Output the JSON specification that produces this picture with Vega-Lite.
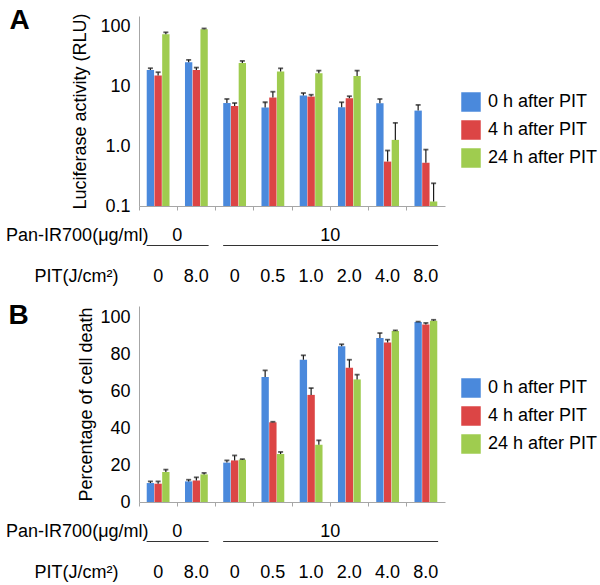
{
  "$schema": "https://vega.github.io/schema/vega-lite/v6.json",
  "padding": {"left": 5, "top": 6, "right": 0, "bottom": 0},
  "config": {
    "font": "Liberation Sans",
    "view": {"stroke": null},
    "axis": {"labelColor": "#000000", "titleColor": "#000000", "domainColor": "#a6a6a6", "tickColor": "#a6a6a6", "grid": false, "labelFontSize": 18, "titleFontSize": 18, "titleFontWeight": "normal", "labelOverlap": false},
    "legend": {"labelFontSize": 18, "labelColor": "#000000", "symbolType": "square", "symbolSize": 380, "symbolStrokeWidth": 0, "rowPadding": 8, "labelOffset": 7}
  },
  "datasets": {
    "a": [
      {"cond": "c1", "series": "0 h after PIT", "value": 19, "hi": 20.3},
      {"cond": "c1", "series": "4 h after PIT", "value": 15.3, "hi": 17.4},
      {"cond": "c1", "series": "24 h after PIT", "value": 75, "hi": 81},
      {"cond": "c2", "series": "0 h after PIT", "value": 25.5, "hi": 28},
      {"cond": "c2", "series": "4 h after PIT", "value": 19, "hi": 20.8},
      {"cond": "c2", "series": "24 h after PIT", "value": 91, "hi": 94},
      {"cond": "c3", "series": "0 h after PIT", "value": 5.3, "hi": 6.2},
      {"cond": "c3", "series": "4 h after PIT", "value": 4.75, "hi": 5.3},
      {"cond": "c3", "series": "24 h after PIT", "value": 24.9, "hi": 26.9},
      {"cond": "c4", "series": "0 h after PIT", "value": 4.45, "hi": 5.46},
      {"cond": "c4", "series": "4 h after PIT", "value": 6.55, "hi": 8.2},
      {"cond": "c4", "series": "24 h after PIT", "value": 17.8, "hi": 20.2},
      {"cond": "c5", "series": "0 h after PIT", "value": 7.07, "hi": 7.8},
      {"cond": "c5", "series": "4 h after PIT", "value": 6.8, "hi": 7.3},
      {"cond": "c5", "series": "24 h after PIT", "value": 16.7, "hi": 18.5},
      {"cond": "c6", "series": "0 h after PIT", "value": 4.5, "hi": 5.46},
      {"cond": "c6", "series": "4 h after PIT", "value": 6.35, "hi": 6.9},
      {"cond": "c6", "series": "24 h after PIT", "value": 15.1, "hi": 18.5},
      {"cond": "c7", "series": "0 h after PIT", "value": 5.26, "hi": 6.2},
      {"cond": "c7", "series": "4 h after PIT", "value": 0.554, "hi": 0.85},
      {"cond": "c7", "series": "24 h after PIT", "value": 1.28, "hi": 2.47},
      {"cond": "c8", "series": "0 h after PIT", "value": 3.96, "hi": 4.93},
      {"cond": "c8", "series": "4 h after PIT", "value": 0.53, "hi": 0.88},
      {"cond": "c8", "series": "24 h after PIT", "value": 0.119, "hi": 0.24}
    ],
    "b": [
      {"cond": "c1", "series": "0 h after PIT", "value": 10.3, "hi": 11.2},
      {"cond": "c1", "series": "4 h after PIT", "value": 9.95, "hi": 11.2},
      {"cond": "c1", "series": "24 h after PIT", "value": 16.3, "hi": 17.6},
      {"cond": "c2", "series": "0 h after PIT", "value": 11.2, "hi": 12.1},
      {"cond": "c2", "series": "4 h after PIT", "value": 11.7, "hi": 13.4},
      {"cond": "c2", "series": "24 h after PIT", "value": 15, "hi": 15.8},
      {"cond": "c3", "series": "0 h after PIT", "value": 21.4, "hi": 22.6},
      {"cond": "c3", "series": "4 h after PIT", "value": 22.6, "hi": 25.3},
      {"cond": "c3", "series": "24 h after PIT", "value": 23, "hi": 23.3},
      {"cond": "c4", "series": "0 h after PIT", "value": 67.9, "hi": 71.5},
      {"cond": "c4", "series": "4 h after PIT", "value": 43.3, "hi": 43.6},
      {"cond": "c4", "series": "24 h after PIT", "value": 26.1, "hi": 27.2},
      {"cond": "c5", "series": "0 h after PIT", "value": 77.3, "hi": 79.7},
      {"cond": "c5", "series": "4 h after PIT", "value": 58.2, "hi": 61.9},
      {"cond": "c5", "series": "24 h after PIT", "value": 31.1, "hi": 33.5},
      {"cond": "c6", "series": "0 h after PIT", "value": 84.6, "hi": 85.7},
      {"cond": "c6", "series": "4 h after PIT", "value": 73, "hi": 77.3},
      {"cond": "c6", "series": "24 h after PIT", "value": 66.6, "hi": 69.2},
      {"cond": "c7", "series": "0 h after PIT", "value": 89.1, "hi": 91.8},
      {"cond": "c7", "series": "4 h after PIT", "value": 86.6, "hi": 88.2},
      {"cond": "c7", "series": "24 h after PIT", "value": 92.9, "hi": 93.3},
      {"cond": "c8", "series": "0 h after PIT", "value": 97.8, "hi": 98},
      {"cond": "c8", "series": "4 h after PIT", "value": 96.5, "hi": 97.3},
      {"cond": "c8", "series": "24 h after PIT", "value": 98.5, "hi": 99}
    ],
    "pan": [
      {"row": "pan", "start": "c1", "end": "c2", "mid": "c1", "t": "0"},
      {"row": "pan", "start": "c3", "end": "c8", "mid": "c5", "t": "10"}
    ],
    "pit": [
      {"row": "pit", "cond": "c1", "t": "0"},
      {"row": "pit", "cond": "c2", "t": "8.0"},
      {"row": "pit", "cond": "c3", "t": "0"},
      {"row": "pit", "cond": "c4", "t": "0.5"},
      {"row": "pit", "cond": "c5", "t": "1.0"},
      {"row": "pit", "cond": "c6", "t": "2.0"},
      {"row": "pit", "cond": "c7", "t": "4.0"},
      {"row": "pit", "cond": "c8", "t": "8.0"}
    ]
  },
  "resolve": {"scale": {"color": "independent"}},
  "spacing": 4,
  "vconcat": [
    {
      "resolve": {"scale": {"color": "independent"}},
      "spacing": 0,
      "vconcat": [
        {
          "width": 306,
          "height": 190,
          "title": {"text": "A", "orient": "left", "anchor": "end", "angle": 0, "align": "right", "baseline": "top", "fontSize": 28, "fontWeight": "bold", "offset": 22, "dy": -6},
          "data": {"name": "a"},
          "encoding": {
            "x": {"field": "cond", "type": "nominal", "sort": ["c1","c2","c3","c4","c5","c6","c7","c8"], "scale": {"paddingInner": 0, "paddingOuter": 0}, "axis": {"title": null, "labels": false, "bandPosition": 0, "tickSize": 4}},
            "xOffset": {"field": "series", "type": "nominal", "sort": ["0 h after PIT", "4 h after PIT", "24 h after PIT"], "scale": {"paddingInner": 0.05, "paddingOuter": 1.5}}
          },
          "layer": [
            {
              "mark": {"type": "bar"},
              "encoding": {
                "y": {"field": "value", "type": "quantitative", "scale": {"type": "log", "domain": [0.1, 152], "nice": false}, "axis": {"title": "Luciferase activity (RLU)", "values": [0.1, 1, 10, 100], "labelExpr": "datum.value < 0.5 ? '0.1' : datum.value < 5 ? '1.0' : datum.value < 50 ? '10' : '100'", "ticks": false, "labelPadding": 9, "titlePadding": 10}},
                "y2": {"datum": 0.1},
                "color": {"field": "series", "type": "nominal", "sort": ["0 h after PIT", "4 h after PIT", "24 h after PIT"], "scale": {"range": ["#4a89dc", "#dc4545", "#9fcc4f"]}, "legend": {"title": null, "orient": "none", "legendX": 322, "legendY": 76}}
              }
            },
            {
              "mark": {"type": "rule", "color": "#1a1a1a", "strokeWidth": 1.2},
              "encoding": {"y": {"field": "value", "type": "quantitative"}, "y2": {"field": "hi"}}
            },
            {
              "mark": {"type": "tick", "color": "#1a1a1a", "thickness": 1.8, "size": 5},
              "encoding": {"y": {"field": "hi", "type": "quantitative"}}
            }
          ]
        },
        {
          "width": 306,
          "height": 83,
          "encoding": {
            "y": {"field": "row", "type": "nominal", "scale": {"domain": ["pan", "pit"], "paddingInner": 0, "paddingOuter": 0}, "axis": {"title": null, "domain": false, "ticks": false, "labelExpr": "datum.value == 'pan' ? 'Pan-IR700(μg/ml)' : 'PIT(J/cm²)'", "labelPadding": {"condition": {"test": "datum.value == 'pan'", "value": -9}, "value": 21}}}
          },
          "layer": [
            {
              "data": {"name": "pan"},
              "mark": {"type": "text", "fontSize": 18, "color": "#000000"},
              "encoding": {"x": {"field": "mid", "type": "nominal", "bandPosition": 1, "sort": ["c1","c2","c3","c4","c5","c6","c7","c8"], "scale": {"domain": ["c1","c2","c3","c4","c5","c6","c7","c8"], "paddingInner": 0, "paddingOuter": 0}, "axis": null}, "text": {"field": "t"}}
            },
            {
              "data": {"name": "pan"},
              "mark": {"type": "rule", "color": "#333333", "strokeWidth": 1},
              "encoding": {"x": {"field": "start", "type": "nominal", "bandPosition": 0.2, "axis": null}, "x2": {"field": "end", "bandPosition": 0.82}, "y": {"field": "row", "type": "nominal", "bandPosition": 0.735}}
            },
            {
              "data": {"name": "pit"},
              "mark": {"type": "text", "fontSize": 18, "color": "#000000"},
              "encoding": {"x": {"field": "cond", "type": "nominal", "axis": null}, "text": {"field": "t"}}
            }
          ]
        }
      ]
    },
    {
      "resolve": {"scale": {"color": "independent"}},
      "spacing": 0,
      "vconcat": [
        {
          "width": 306,
          "height": 196,
          "title": {"text": "B", "orient": "left", "anchor": "end", "angle": 0, "align": "right", "baseline": "top", "fontSize": 28, "fontWeight": "bold", "offset": 29, "dy": -4},
          "data": {"name": "b"},
          "encoding": {
            "x": {"field": "cond", "type": "nominal", "sort": ["c1","c2","c3","c4","c5","c6","c7","c8"], "scale": {"paddingInner": 0, "paddingOuter": 0}, "axis": {"title": null, "labels": false, "bandPosition": 0, "tickSize": 4}},
            "xOffset": {"field": "series", "type": "nominal", "sort": ["0 h after PIT", "4 h after PIT", "24 h after PIT"], "scale": {"paddingInner": 0.05, "paddingOuter": 1.5}}
          },
          "layer": [
            {
              "mark": {"type": "bar"},
              "encoding": {
                "y": {"field": "value", "type": "quantitative", "scale": {"domain": [0, 106.5], "nice": false}, "axis": {"title": "Percentage of cell death", "values": [0, 20, 40, 60, 80, 100], "labelOverlap": false, "ticks": false, "labelPadding": 9, "titlePadding": 4}},
                "color": {"field": "series", "type": "nominal", "sort": ["0 h after PIT", "4 h after PIT", "24 h after PIT"], "scale": {"range": ["#4a89dc", "#dc4545", "#9fcc4f"]}, "legend": {"title": null, "orient": "none", "legendX": 322, "legendY": 72}}
              }
            },
            {
              "mark": {"type": "rule", "color": "#1a1a1a", "strokeWidth": 1.2},
              "encoding": {"y": {"field": "value", "type": "quantitative", "axis": {"title": "Percentage of cell death", "values": [0, 20, 40, 60, 80, 100], "labelOverlap": false, "ticks": false, "labelPadding": 9, "titlePadding": 4}}, "y2": {"field": "hi"}}
            },
            {
              "mark": {"type": "tick", "color": "#1a1a1a", "thickness": 1.8, "size": 5},
              "encoding": {"y": {"field": "hi", "type": "quantitative", "axis": {"title": "Percentage of cell death", "values": [0, 20, 40, 60, 80, 100], "labelOverlap": false, "ticks": false, "labelPadding": 9, "titlePadding": 4}}}
            }
          ]
        },
        {
          "width": 306,
          "height": 83,
          "encoding": {
            "y": {"field": "row", "type": "nominal", "scale": {"domain": ["pan", "pit"], "paddingInner": 0, "paddingOuter": 0}, "axis": {"title": null, "domain": false, "ticks": false, "labelExpr": "datum.value == 'pan' ? 'Pan-IR700(μg/ml)' : 'PIT(J/cm²)'", "labelPadding": {"condition": {"test": "datum.value == 'pan'", "value": -9}, "value": 21}}}
          },
          "layer": [
            {
              "data": {"name": "pan"},
              "mark": {"type": "text", "fontSize": 18, "color": "#000000"},
              "encoding": {"x": {"field": "mid", "type": "nominal", "bandPosition": 1, "sort": ["c1","c2","c3","c4","c5","c6","c7","c8"], "scale": {"domain": ["c1","c2","c3","c4","c5","c6","c7","c8"], "paddingInner": 0, "paddingOuter": 0}, "axis": null}, "text": {"field": "t"}}
            },
            {
              "data": {"name": "pan"},
              "mark": {"type": "rule", "color": "#333333", "strokeWidth": 1},
              "encoding": {"x": {"field": "start", "type": "nominal", "bandPosition": 0.2, "axis": null}, "x2": {"field": "end", "bandPosition": 0.82}, "y": {"field": "row", "type": "nominal", "bandPosition": 0.735}}
            },
            {
              "data": {"name": "pit"},
              "mark": {"type": "text", "fontSize": 18, "color": "#000000"},
              "encoding": {"x": {"field": "cond", "type": "nominal", "axis": null}, "text": {"field": "t"}}
            }
          ]
        }
      ]
    }
  ]
}
